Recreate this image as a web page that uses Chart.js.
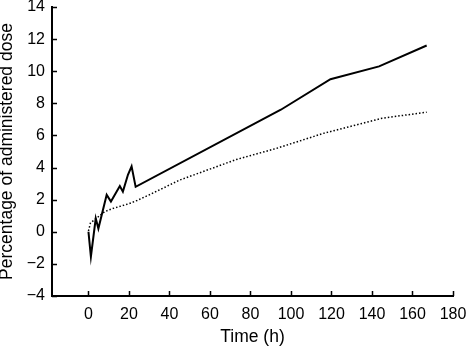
<!DOCTYPE html>
<html lang="en">
<head>
  <meta charset="UTF-8">
  <title>Percentage of administered dose</title>
  <script src="https://cdn.jsdelivr.net/npm/chart.js@4.4.0"></script>
  <style>
    html, body { margin: 0; padding: 0; background: #fff; }
    canvas { display: block; }
  </style>
</head>
<body>
  <canvas id="myChart" width="467" height="346"></canvas>
  <script>
    // solid line (time in h, % of dose)
    const solidTime = [0, 1.2, 3.6, 4.9, 9, 11.1, 15.5, 17, 19.5, 21.3, 23.3, 95, 119.5, 143.5, 167];
    const solidDose = [0, -1.55, 0.84, 0.2, 2.3, 1.88, 2.85, 2.5, 3.55, 4.08, 2.8, 7.6, 9.5, 10.3, 11.6];
    // dotted line
    const dottedTime = [0, 1, 4, 8, 12, 16, 20, 24, 30, 45, 73, 93, 116, 145, 167];
    const dottedDose = [0.05, 0.55, 0.85, 1.25, 1.45, 1.6, 1.75, 1.95, 2.3, 3.22, 4.5, 5.2, 6.13, 7.07, 7.45];
    // axis ticks
    const xTicks = [0, 20, 40, 60, 80, 100, 120, 140, 160, 180];
    const yTicks = [-4, -2, 0, 2, 4, 6, 8, 10, 12, 14];

    const font = { family: "'Liberation Sans', Arial, sans-serif", size: 16 };
    const titleFont = { family: font.family, size: 17.5 };

    // inward tick marks
    const innerTicks = {
      id: 'innerTicks',
      afterDraw(chart) {
        const c = chart.ctx;
        const xs = chart.scales.x, ys = chart.scales.y;
        const area = chart.chartArea;
        c.save();
        c.strokeStyle = '#000';
        c.lineWidth = 1.5;
        c.beginPath();
        xTicks.forEach(v => {
          const px = Math.round(xs.getPixelForValue(v)) + 0.5;
          c.moveTo(px, area.bottom);
          c.lineTo(px, area.bottom - 5);
        });
        yTicks.forEach(v => {
          const py = Math.round(ys.getPixelForValue(v)) + 0.5;
          c.moveTo(area.left, py);
          c.lineTo(area.left + 5, py);
        });
        c.stroke();
        c.restore();
      }
    };

    const ctx = document.getElementById('myChart').getContext('2d');
    const myChart = new Chart(ctx, {
      type: 'line',
      data: {
        datasets: [
          {
            label: 'solid',
            data: solidTime.map((t, i) => ({ x: t, y: solidDose[i] })),
            borderColor: '#000',
            borderWidth: 2,
            pointRadius: 0,
            tension: 0,
            fill: false
          },
          {
            label: 'dotted',
            data: dottedTime.map((t, i) => ({ x: t, y: dottedDose[i] })),
            borderColor: '#000',
            borderWidth: 1.5,
            borderDash: [1.5, 2],
            pointRadius: 0,
            tension: 0,
            fill: false
          }
        ]
      },
      options: {
        responsive: false,
        animation: false,
        layout: { padding: 0 },
        plugins: { legend: { display: false }, tooltip: { enabled: false } },
        scales: {
          x: {
            type: 'linear',
            min: -18,
            max: 180,
            afterBuildTicks: s => { s.ticks = xTicks.map(v => ({ value: v })); },
            afterFit: s => { s.height = 50; s.paddingLeft = 0; s.paddingRight = 14; },
            grid: { display: false, drawTicks: false },
            border: { color: '#000', width: 2 },
            ticks: { color: '#000', font: font, padding: 9, maxRotation: 0 },
            title: {
              display: true,
              text: 'Time (h)',
              color: '#000',
              font: titleFont,
              padding: { top: 0, bottom: -2 }
            }
          },
          y: {
            type: 'linear',
            min: -4,
            max: 14,
            afterBuildTicks: s => { s.ticks = yTicks.map(v => ({ value: v })); },
            afterFit: s => { s.width = 52; s.paddingTop = 7; s.paddingBottom = 0; },
            grid: { display: false, drawTicks: false },
            border: { color: '#000', width: 2 },
            ticks: {
              color: '#000',
              font: font,
              padding: 7,
              // real minus sign like the original
              callback: v => v < 0 ? '\u2212' + Math.abs(v) : String(v)
            },
            title: {
              display: true,
              text: 'Percentage of administered dose',
              color: '#000',
              font: titleFont,
              padding: { top: -3.5, bottom: 0 }
            }
          }
        }
      },
      plugins: [innerTicks]
    });
  </script>
</body>
</html>
